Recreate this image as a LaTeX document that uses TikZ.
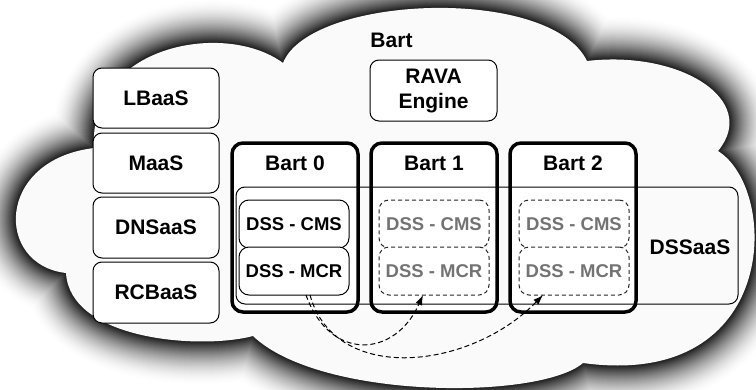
\documentclass[tikz,border=0pt]{standalone}
\usepackage{fontspec}
\setmainfont{Liberation Sans}
\usetikzlibrary{arrows.meta}
\definecolor{ghosttext}{RGB}{115,115,115}
\def\cloudpath{(94,148) .. controls (88,45) and (225,20) .. (283,63) .. controls (310,-5) and (550,-15) .. (587,61) .. controls (680,50) and (760,100) .. (718,151) .. controls (780,190) and (780,390) .. (583,363) .. controls (540,400) and (320,400) .. (253,336) .. controls (200,350) and (70,340) .. (66,273) .. controls (-5,265) and (-5,160) .. (94,148) -- cycle}
\begin{document}
\begin{tikzpicture}[x=1pt,y=-1pt,
  bigfont/.style={font=\fontsize{21}{25}\selectfont\bfseries},
  svc/.style={draw,line width=1pt,rounded corners=9pt,fill=white,minimum width=126pt,minimum height=60pt,inner sep=0pt,outer sep=0pt,bigfont,align=center},
  bartbox/.style={draw,line width=3.5pt,rounded corners=11pt,fill=white,minimum width=126pt,minimum height=169pt,inner sep=0pt,outer sep=0pt},
  lbl/.style={bigfont,inner sep=0pt},
  dssbox/.style={draw,line width=1pt,rounded corners=10pt,fill=white,minimum width=110pt,minimum height=48pt,inner sep=0pt,outer sep=0pt,font=\fontsize{18.5}{22}\selectfont\bfseries},
  ghostbox/.style={dssbox,draw=black!85,dash pattern=on 4pt off 3pt,text=ghosttext},
  mig/.style={draw,line width=1pt,dash pattern=on 5pt off 3pt,-{Latex[length=10pt,width=7pt]}}
]
\useasboundingbox (0,0) rectangle (756,389);
\clip (0,0) rectangle (756,389);
% cloud glow
\foreach \d in {43,42,...,1}{
  \pgfmathsetmacro\c{90*(1-\d/44)^1.8}
  \draw[line width={2*\d pt}, draw=black!\c, line join=round] \cloudpath;
}
\fill[black!2] \cloudpath;

% Bart label and RAVA engine
\node[lbl] (bart) at (391.5,40) {Bart};
\node[svc,minimum width=127pt,minimum height=61pt] (rava) at (433.5,90.5) {RAVA\\Engine};

% services
\node[svc] (lb) at (156,98) {LBaaS};
\node[svc] (ma) at (156,163) {MaaS};
\node[svc,minimum height=61pt] (dn) at (156,227.5) {DNSaaS};
\node[svc,minimum height=61pt] (rc) at (156,292.5) {RCBaaS};

% Bart instances
\node[bartbox] (b0) at (295,227.5) {};
\node[bartbox] (b1) at (434,227.5) {};
\node[bartbox] (b2) at (573,227.5) {};
\node[lbl] (b0t) at (295,163) {Bart 0};
\node[lbl] (b1t) at (434,163) {Bart 1};
\node[lbl] (b2t) at (573,163) {Bart 2};

% DSSaaS
\node[draw,line width=1pt,rounded corners=9pt,minimum width=502pt,minimum height=117pt,inner sep=0pt,outer sep=0pt] (dss) at (487,245.5) {};
\node[lbl] (dsst) at (690,247) {DSSaaS};

% DSS components
\node[dssbox] (c0) at (294,224) {DSS - CMS};
\node[dssbox] (m0) at (294,271) {DSS - MCR};
\node[ghostbox] (c1) at (434,224) {DSS - CMS};
\node[ghostbox] (m1) at (434,271) {DSS - MCR};
\node[ghostbox] (c2) at (574,224) {DSS - CMS};
\node[ghostbox] (m2) at (574,271) {DSS - MCR};

% migration arrows
\draw[mig] ([xshift=12pt]m0.south) .. controls +(24,67) and +(-28,63) .. ([xshift=-11pt]m1.south);
\draw[mig] ([xshift=16pt]m0.south) .. controls +(25,90) and +(-73,75) .. ([xshift=-31pt]m2.south);
\end{tikzpicture}
\end{document}
